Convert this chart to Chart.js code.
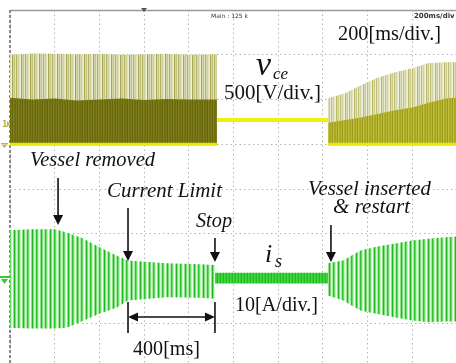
<!DOCTYPE html>
<html>
<head>
<meta charset="utf-8">
<script src="https://cdn.jsdelivr.net/npm/chart.js@4.4.1/dist/chart.umd.min.js"></script>
<style>
  html, body { margin: 0; padding: 0; background: #fff; overflow: hidden; }
  #wrap { width: 456px; height: 363px; overflow: hidden; position: relative; }
  canvas { position: absolute; left: 0; top: 0; }
</style>
</head>
<body>
<div id="wrap"><canvas id="scope" width="460" height="370"></canvas></div>
<script>
// time base 200 ms/div (x in ms)

// vce [V], 500 V/div - running, vessel on
const vceLeftT = [0, 100, 200, 300, 400, 500, 600, 700, 800, 926];
const vceLeftPeak = [1000, 1015, 1010, 1005, 1010, 1000, 1005, 1010, 1000, 1005];
const vceLeftBody = [520, 500, 510, 490, 500, 510, 495, 505, 500, 500];

// vce while stopped (dc link level)
const vceStopT = [926, 1423];
const vceStopV = [270, 270];

// vce after restart
const vceRightT = [1423, 1500, 1570, 1650, 1723, 1800, 1870, 1950, 2000];
const vceRightPeak = [514, 570, 659, 748, 804, 849, 905, 916, 916];
const vceRightBody = [240, 270, 300, 340, 380, 410, 460, 510, 520];

// is [A], 10 A/div - envelope of the coil current
const isLeftT = [0, 90, 200, 255, 330, 403, 479, 528, 700, 850, 917];
const isLeftMax = [10.8, 11.0, 11.0, 10.3, 8.9, 6.9, 5.1, 4.0, 3.4, 3.2, 3.0];
const isLeftMin = [-11.0, -11.2, -11.2, -11.0, -9.4, -7.8, -6.5, -4.9, -4.2, -4.3, -4.5];

const isStopT = [917, 1423];
const isStopMax = [1.3, 1.3];
const isStopMin = [-1.1, -1.1];

const isRightT = [1423, 1490, 1570, 1650, 1723, 1800, 1870, 1950, 2000];
const isRightMax = [3.4, 4.0, 6.3, 7.2, 7.8, 8.5, 8.9, 9.2, 9.4];
const isRightMin = [-3.8, -4.9, -7.2, -8.0, -8.7, -9.4, -9.8, -9.6, -9.6];

// event instants [ms]
const tRemoved = 215;
const tLimit = 528;
const tStop = 917;
const tRestart = 1436;

const canvas = document.getElementById('scope');
const ctx0 = canvas.getContext('2d');

function pts(t, v) {
    return t.map((x, i) => ({ x, y: v[i] }));
}

function stripes(colors) {
    const c = document.createElement('canvas');
    c.width = colors.length;
    c.height = 1;
    const g = c.getContext('2d');
    colors.forEach((col, i) => { g.fillStyle = col; g.fillRect(i, 0, 1, 1); });
    return ctx0.createPattern(c, 'repeat');
}

const olivePale = stripes(['#cfcf98', '#e0e0bc', '#eeeedc', '#a6a650', '#d4d4a4', '#c4c486', '#e2e2c2', '#b4b464', '#d8d8ae']);
const oliveDark = stripes(['#6e6e10', '#7a7a18', '#65650a', '#808020', '#717112']);
const oliveRight = stripes(['#a8a820', '#b8b834', '#9a9a18', '#c0c040', '#acac28']);
const palePeakR = stripes(['#d4d4a0', '#e6e6c6', '#f0f0e0', '#b8b866', '#dcdcb4', '#caca8e', '#ececd6', '#c0c07a', '#e0e0bc']);
const greenWave = stripes(['#2ec22e', '#66d966', '#c6f2c2', '#f4fdf3', '#8fe38a', '#1fb81f', '#7fdf7a', '#d9f7d6', '#a9eaa5']);
const greenFlat = stripes(['#33cc33', '#22bb22', '#44d844']);

const band = (label, data, axis, fill, bg, order) => ({
    label, data, yAxisID: axis, fill, backgroundColor: bg,
    borderColor: 'transparent', borderWidth: 0, pointRadius: 0, order
});

const trace = (label, data, axis, color, width) => ({
    label, data, yAxisID: axis, fill: false, borderColor: color,
    borderWidth: width, pointRadius: 0, order: 1
});

const datasets = [
    band('vce peak L', pts(vceLeftT, vceLeftPeak), 'yV', 'origin', olivePale, 3),
    band('vce body L', pts(vceLeftT, vceLeftBody), 'yV', 'origin', oliveDark, 2),
    band('vce peak R', pts(vceRightT, vceRightPeak), 'yV', 'origin', palePeakR, 3),
    band('vce body R', pts(vceRightT, vceRightBody), 'yV', 'origin', oliveRight, 2),
    trace('vce zero L', vceLeftT.map(t => ({ x: t, y: 0 })), 'yV', '#e8e800', 3),
    trace('vce zero R', vceRightT.map(t => ({ x: t, y: 0 })), 'yV', '#e8e800', 3),
    trace('vce stop', pts(vceStopT, vceStopV), 'yV', '#eeee10', 4),
    band('is max L', pts(isLeftT, isLeftMax), 'yI', '+1', greenWave, 2),
    band('is min L', pts(isLeftT, isLeftMin), 'yI', false, greenWave, 2),
    band('is max S', pts(isStopT, isStopMax), 'yI', '+1', greenFlat, 2),
    band('is min S', pts(isStopT, isStopMin), 'yI', false, greenFlat, 2),
    band('is max R', pts(isRightT, isRightMax), 'yI', '+1', greenWave, 2),
    band('is min R', pts(isRightT, isRightMin), 'yI', false, greenWave, 2)
];

const gridOpts = { color: '#b4b4b4', lineWidth: 1, drawTicks: false, tickLength: 0, borderDash: [1.5, 3] };
const borderOpts = { display: false, dash: [1.5, 3] };

// scope frame: solid top edge, ticked left edge
const frame = {
    id: 'frame',
    beforeDatasetsDraw(chart) {
        const { ctx, chartArea: a } = chart;
        ctx.save();
        ctx.strokeStyle = '#9a9a9a';
        ctx.lineWidth = 1.5;
        ctx.beginPath();
        ctx.moveTo(a.left, a.top + 0.5);
        ctx.lineTo(a.right + 5, a.top + 0.5);
        ctx.stroke();
        ctx.strokeStyle = '#8a8a8a';
        ctx.lineWidth = 2;
        ctx.setLineDash([3, 2]);
        ctx.beginPath();
        ctx.moveTo(a.left, a.top);
        ctx.lineTo(a.left, a.bottom);
        ctx.stroke();
        ctx.restore();
    }
};

function label(ctx, str, left, base, size, width, italic) {
    ctx.save();
    ctx.font = (italic ? 'italic ' : '') + size + 'px "Liberation Serif", "DejaVu Serif", serif';
    ctx.fillStyle = '#111';
    ctx.textBaseline = 'alphabetic';
    const w = ctx.measureText(str).width;
    ctx.translate(left, base);
    if (width) ctx.scale(width / w, 1);
    ctx.fillText(str, 0, 0);
    ctx.restore();
}

function arrowDown(ctx, x, y0, tip) {
    ctx.beginPath();
    ctx.moveTo(x, y0);
    ctx.lineTo(x, tip - 8);
    ctx.stroke();
    ctx.beginPath();
    ctx.moveTo(x - 5, tip - 10);
    ctx.lineTo(x + 5, tip - 10);
    ctx.lineTo(x, tip);
    ctx.closePath();
    ctx.fill();
}

const notes = {
    id: 'notes',
    afterDraw(chart) {
        const { ctx } = chart;
        const px = t => chart.scales.x.getPixelForValue(t);

        // scope header
        ctx.save();
        ctx.fillStyle = '#333';
        ctx.font = '6px "DejaVu Sans", sans-serif';
        ctx.fillText('Main : 125 k', 211, 18);
        ctx.font = 'bold 7px "DejaVu Sans", sans-serif';
        ctx.fillText('200ms/div', 414, 18);
        // trigger mark
        ctx.fillStyle = '#555';
        ctx.beginPath();
        ctx.moveTo(141, 8); ctx.lineTo(147, 8); ctx.lineTo(144, 12); ctx.closePath(); ctx.fill();
        // channel markers
        ctx.fillStyle = '#b8b840';
        ctx.font = 'bold 8px "DejaVu Sans", sans-serif';
        ctx.fillText('1', 2, 127);
        ctx.beginPath();
        ctx.moveTo(7, 121); ctx.lineTo(10, 124); ctx.lineTo(7, 127); ctx.closePath(); ctx.fill();
        ctx.fillRect(1, 143, 7, 1.5);
        ctx.beginPath();
        ctx.moveTo(2, 145); ctx.lineTo(7, 145); ctx.lineTo(4.5, 148); ctx.closePath(); ctx.fill();
        ctx.fillStyle = '#33cc33';
        ctx.fillRect(0, 276, 9, 2);
        ctx.beginPath();
        ctx.moveTo(1, 279); ctx.lineTo(8, 279); ctx.lineTo(4.5, 284); ctx.closePath(); ctx.fill();
        ctx.restore();

        // channel scale labels
        label(ctx, '200[ms/div.]', 338, 40, 20, 103, false);
        label(ctx, 'v', 256, 75, 34, 0, true);
        label(ctx, 'ce', 273, 79, 17, 0, true);
        label(ctx, '500[V/div.]', 224, 99, 20, 97, false);
        label(ctx, 'i', 265, 262, 26, 0, true);
        label(ctx, 's', 275, 267, 18, 0, true);
        label(ctx, '10[A/div.]', 235, 311, 20, 83, false);

        // event notes
        label(ctx, 'Vessel removed', 30, 166, 20, 125, true);
        label(ctx, 'Current Limit', 107, 197, 20, 115, true);
        label(ctx, 'Stop', 196, 227, 20, 36, true);
        label(ctx, 'Vessel inserted', 308, 195, 20, 123, true);
        label(ctx, '& restart', 333, 213, 20, 77, true);

        ctx.save();
        ctx.strokeStyle = '#111';
        ctx.fillStyle = '#111';
        ctx.lineWidth = 1.6;
        arrowDown(ctx, px(tRemoved), 178, 225);
        arrowDown(ctx, px(tLimit), 208, 261);
        arrowDown(ctx, px(tStop), 238, 262);
        arrowDown(ctx, px(tRestart), 225, 262);

        // 400 ms dimension
        const x1 = px(tLimit), x2 = px(tStop), ym = 317;
        ctx.beginPath();
        ctx.moveTo(x1, 302); ctx.lineTo(x1, 333);
        ctx.moveTo(x2, 302); ctx.lineTo(x2, 333);
        ctx.moveTo(x1 + 8, ym); ctx.lineTo(x2 - 8, ym);
        ctx.stroke();
        ctx.beginPath();
        ctx.moveTo(x1, ym); ctx.lineTo(x1 + 10, ym - 4.5); ctx.lineTo(x1 + 10, ym + 4.5); ctx.closePath();
        ctx.moveTo(x2, ym); ctx.lineTo(x2 - 10, ym - 4.5); ctx.lineTo(x2 - 10, ym + 4.5); ctx.closePath();
        ctx.fill();
        ctx.restore();
        label(ctx, '400[ms]', 133, 355, 20, 67, false);
    }
};

new Chart(canvas, {
    type: 'line',
    data: { datasets },
    options: {
        responsive: false,
        animation: false,
        events: [],
        layout: { padding: { left: 10, top: 10, right: 3, bottom: 2 } },
        plugins: {
            legend: { display: false },
            tooltip: { enabled: false },
            filler: { propagate: false }
        },
        elements: { point: { radius: 0 }, line: { tension: 0 } },
        scales: {
            x: {
                type: 'linear', min: 0, max: 2000,
                ticks: { display: false, stepSize: 200 },
                grid: gridOpts, border: borderOpts
            },
            yV: {
                position: 'left', min: -2500, max: 1500,
                ticks: { display: false, stepSize: 500 },
                grid: gridOpts, border: borderOpts
            },
            yI: { position: 'right', min: -20, max: 60, display: false }
        }
    },
    plugins: [frame, notes]
});
</script>
</body>
</html>
